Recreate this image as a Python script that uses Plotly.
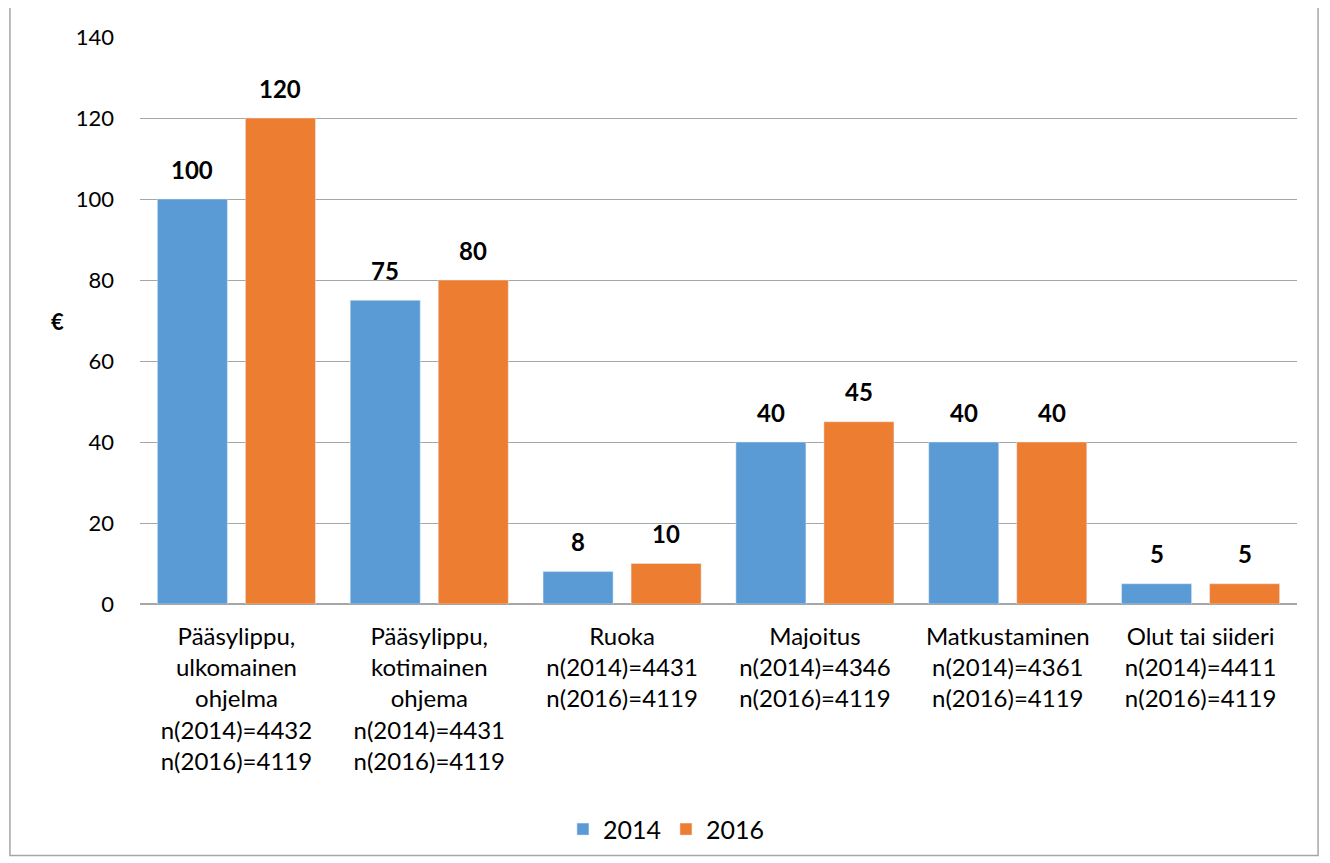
import plotly.graph_objects as go

categories = [
    "Pääsylippu,<br>ulkomainen<br>ohjelma<br>n(2014)=4432<br>n(2016)=4119",
    "Pääsylippu,<br>kotimainen<br>ohjema<br>n(2014)=4431<br>n(2016)=4119",
    "Ruoka<br>n(2014)=4431<br>n(2016)=4119",
    "Majoitus<br>n(2014)=4346<br>n(2016)=4119",
    "Matkustaminen<br>n(2014)=4361<br>n(2016)=4119",
    "Olut tai siideri<br>n(2014)=4411<br>n(2016)=4119",
]
values_2014 = [100, 75, 8, 40, 40, 5]
values_2016 = [120, 80, 10, 45, 40, 5]

font_family = "Lato, Carlito, 'Open Sans', sans-serif"

fig = go.Figure()
fig.add_trace(go.Bar(x=categories, y=values_2014, name="2014", marker_color="#5b9bd5"))
fig.add_trace(go.Bar(x=categories, y=values_2016, name="2016", marker_color="#ed7d31"))

# value labels above bars
annotations = []
for vals, shift in [(values_2014, -44), (values_2016, 44)]:
    for c, v in zip(categories, vals):
        annotations.append(dict(x=c, y=v, xref="x", yref="y", text="<b>%d</b>" % v,
                                showarrow=False, xshift=shift, yshift=30, yanchor="middle",
                                font=dict(size=24, color="black", family=font_family)))

# horizontal axis title
annotations.append(dict(x=-0.0717, y=0.498, xref="paper", yref="paper", text="<b>€</b>",
                        showarrow=False, xanchor="center", yanchor="middle",
                        font=dict(size=22, color="black", family=font_family)))

# page body has an 8px margin, so the figure is made 8px smaller
fig.update_layout(
    width=1322, height=855,
    margin=dict(l=132, r=33, t=29, b=258),
    paper_bgcolor="white", plot_bgcolor="white",
    font=dict(family=font_family, size=24, color="black"),
    barmode="group", bargap=0.087, bargroupgap=0.2045,
    legend=dict(orientation="h", x=0.455, y=-0.395, xanchor="center", yanchor="middle",
                font=dict(size=25), itemwidth=30, traceorder="normal"),
    yaxis=dict(range=[0, 140], dtick=20, showgrid=True, gridcolor="#a6a6a6", gridwidth=1,
               zeroline=True, zerolinecolor="#a6a6a6", ticks="", ticklabelstandoff=25,
               tickfont=dict(size=22)),
    xaxis=dict(showline=False, ticks="", tickangle=0, ticklabelstandoff=16),
    annotations=annotations,
    shapes=[dict(type="rect", xref="paper", yref="paper",
                 x0=-0.1124, x1=1.0182, y0=-0.4437, y1=1.0528,
                 line=dict(color="#a6a6a6", width=1.5))],
)

fig.write_html("out.html")
